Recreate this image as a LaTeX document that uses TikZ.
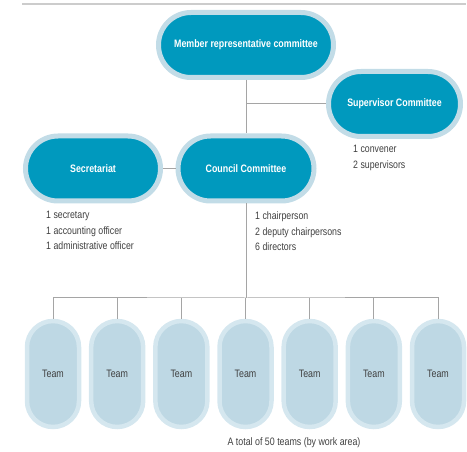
\documentclass[tikz,border=0pt]{standalone}
\usepackage{fontspec}
\setmainfont{Liberation Sans}[FakeStretch=0.82]
\usetikzlibrary{positioning}
\definecolor{boxfill}{HTML}{0099BE}
\definecolor{boxrim}{HTML}{C2DCE7}
\definecolor{teamfill}{HTML}{BED8E4}
\definecolor{teamrim}{HTML}{D5E7EF}
\definecolor{linkgrey}{HTML}{A5A5A5}
\definecolor{rulegrey}{HTML}{CCCCCC}
\definecolor{textgrey}{HTML}{404040}
\tikzset{
  unitbox/.style={draw=boxrim, line width=5pt, fill=boxfill, rounded corners=32.5pt,
    minimum height=65pt, inner sep=0pt, text=white,
    font=\fontsize{10.8}{13}\selectfont\bfseries},
  teambox/.style={draw=teamrim, line width=4.5pt, fill=teamfill, rounded corners=26pt,
    minimum width=52pt, minimum height=106pt, inner sep=0pt, text=textgrey,
    font=\fontsize{10.8}{13}\selectfont},
  link/.style={draw=linkgrey, line width=1pt},
  notes/.style={align=left, inner sep=0pt, anchor=north west, text=textgrey,
    font=\fontsize{10.7}{15.5}\selectfont}
}

\begin{document}
\begin{tikzpicture}[x=1pt,y=-1pt]
  \useasboundingbox (0,0) rectangle (467,452);
  \draw[rulegrey, line width=1.5pt] (22,4) -- (466,4);

  % committees
  \node[unitbox, minimum width=175pt] (member) at (246,45) {Member representative committee};
  \node[unitbox, minimum width=132pt] (super) at (394.5,104) {Supervisor Committee};
  \node[unitbox, minimum width=135pt] (secr) at (93,168.5) {Secretariat};
  \node[unitbox, minimum width=136pt] (council) at (246,168.5) {Council Committee};

  \node[notes] (supernotes) at (353,145) {1 convener\\2 supervisors};
  \node[notes] (secrnotes) at (46,211) {1 secretary\\1 accounting officer\\1 administrative officer};
  \node[notes] (councilnotes) at (255,212) {1 chairperson\\2 deputy chairpersons\\6 directors};

  \draw[link] (member.south) -- (council.north);
  \draw[link] (member.south |- super.west) -- (super.west);
  \draw[link] (secr.east) -- (council.west);

  % teams
  \foreach \i in {1,...,7}
    \node[teambox] (team\i) at ({53+64.17*(\i-1)},374) {Team};
  \coordinate (bus) at (246,298);
  \draw[link] (council.south) -- (council.south |- bus);
  \draw[link] (team1.north) |- (bus) -| (team7.north);
  \foreach \i in {2,...,6}
    \draw[link] (team\i.north) -- (team\i.north |- bus);

  \node[text=textgrey, font=\fontsize{10.8}{13}\selectfont] (total) at (294,443) {A total of 50 teams (by work area)};
\end{tikzpicture}
\end{document}
